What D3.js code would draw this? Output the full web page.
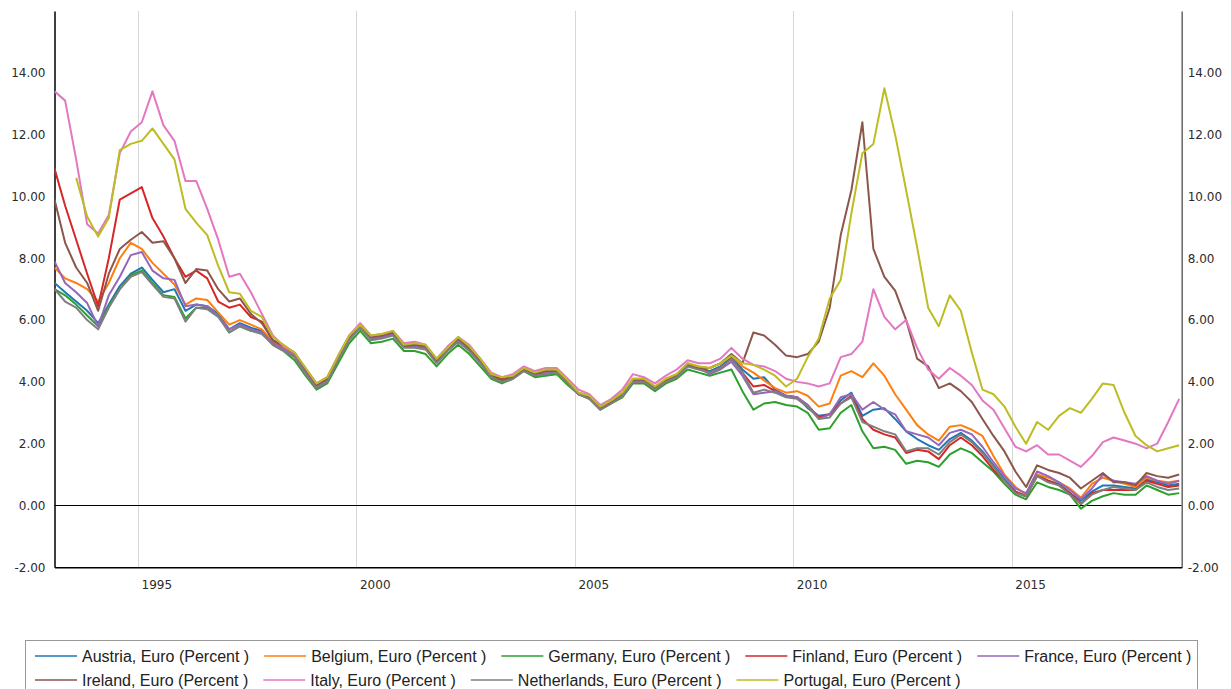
<!DOCTYPE html>
<html>
<head>
<meta charset="utf-8">
<script src="https://cdn.jsdelivr.net/npm/d3@7"></script>
<style>
body { margin: 0; background: #fff; }
</style>
</head>
<body>
<div class="chart"></div>
<script>
var WIDTH = 1231;
var HEIGHT = 689;
var LEFT = 54.5, RIGHT = 1181.7, TOP = 11, BOTTOM = 567.3;

// quarterly readings, Feb / May / Aug / Nov, starting Feb 1993
var startMonth = new Date(1993, 1, 1);
var endMonth = new Date(2018, 11, 1);
var axisEnd = new Date(2018, 10, 22);

var yTicks = [-2, 0, 2, 4, 6, 8, 10, 12, 14];
var yearTicks = [1995, 2000, 2005, 2010, 2015];

var countries = ["Austria", "Belgium", "Germany", "Finland", "France",
                 "Ireland", "Italy", "Netherlands", "Portugal"];
var colors = ["#1f77b4", "#ff7f0e", "#2ca02c", "#d62728", "#9467bd",
              "#8c564b", "#e377c2", "#7f7f7f", "#bcbd22"];

var austria = [
    7.2, 6.9, 6.6, 6.3,  5.9, 6.5, 7.1, 7.5,  7.7, 7.3, 6.9, 7.0,
    6.3, 6.5, 6.45, 6.2,  5.7, 5.9, 5.75, 5.65,  5.25, 5.05, 4.85, 4.35,
    3.85, 4.05, 4.75, 5.4,  5.8, 5.4, 5.45, 5.55,  5.15, 5.15, 5.1, 4.65,
    5.05, 5.35, 5.05, 4.65,  4.2, 4.05, 4.15, 4.4,  4.25, 4.3, 4.35, 4.0,
    3.65, 3.5, 3.15, 3.35,  3.6, 4.05, 4.05, 3.8,  4.05, 4.2, 4.55, 4.45,
    4.35, 4.5, 4.8, 4.4,  4.1, 4.15, 3.75, 3.55,  3.5, 3.15, 2.9, 2.95,
    3.4, 3.65, 2.9, 3.1,  3.15, 2.8, 2.4, 2.15,  1.95, 1.8, 2.15, 2.35,
    2.1, 1.75, 1.3, 0.85,  0.45, 0.3, 1.0, 0.8,  0.7, 0.4, 0.15, 0.45,
    0.65, 0.65, 0.6, 0.55,  0.85, 0.75, 0.65, 0.7
];
var belgium = [
    7.7, 7.35, 7.2, 7.0,  6.6, 7.2, 8.0, 8.5,  8.3, 7.85, 7.5, 7.15,
    6.5, 6.7, 6.65, 6.25,  5.85, 6.0, 5.85, 5.7,  5.3, 5.1, 4.9, 4.4,
    3.9, 4.1, 4.8, 5.45,  5.85, 5.45, 5.5, 5.6,  5.2, 5.2, 5.15, 4.7,
    5.1, 5.4, 5.1, 4.7,  4.2, 4.1, 4.2, 4.45,  4.3, 4.35, 4.35, 4.05,
    3.65, 3.55, 3.2, 3.4,  3.65, 4.1, 4.1, 3.85,  4.1, 4.25, 4.6, 4.5,
    4.45, 4.6, 4.85, 4.5,  4.3, 4.05, 3.8, 3.65,  3.7, 3.55, 3.2, 3.3,
    4.2, 4.35, 4.15, 4.6,  4.2, 3.6, 3.1, 2.6,  2.3, 2.1, 2.55, 2.6,
    2.45, 2.25, 1.6, 1.0,  0.6, 0.35, 1.0, 0.9,  0.75, 0.55, 0.25, 0.7,
    0.9, 0.8, 0.7, 0.6,  0.9, 0.8, 0.75, 0.8
];
var germany = [
    7.0, 6.8, 6.5, 6.15,  5.8, 6.45, 7.0, 7.45,  7.6, 7.2, 6.8, 6.75,
    6.05, 6.4, 6.4, 6.15,  5.6, 5.8, 5.65, 5.6,  5.2, 5.0, 4.7, 4.2,
    3.75, 3.95, 4.6, 5.25,  5.65, 5.25, 5.3, 5.4,  5.0, 5.0, 4.9, 4.5,
    4.9, 5.2, 4.9, 4.5,  4.1, 3.95, 4.1, 4.35,  4.15, 4.2, 4.25, 3.9,
    3.6, 3.45, 3.1, 3.3,  3.5, 3.95, 3.95, 3.7,  3.95, 4.1, 4.4, 4.3,
    4.2, 4.3, 4.4, 3.7,  3.1, 3.3, 3.35, 3.25,  3.2, 3.0, 2.45, 2.5,
    3.0, 3.25, 2.4, 1.85,  1.9, 1.8, 1.35, 1.45,  1.4, 1.25, 1.65, 1.85,
    1.7, 1.4, 1.1, 0.7,  0.35, 0.2, 0.75, 0.6,  0.5, 0.35, -0.1, 0.15,
    0.3, 0.4, 0.35, 0.35,  0.65, 0.5, 0.35, 0.4
];
var finland = [
    10.9, 9.7, 8.6, 7.5,  6.45, 8.0, 9.9, 10.1,  10.3, 9.3, 8.7, 8.0,
    7.4, 7.6, 7.35, 6.6,  6.4, 6.5, 6.1, 5.95,  5.35, 5.15, 4.95, 4.4,
    3.9, 4.1, 4.8, 5.45,  5.85, 5.45, 5.5, 5.6,  5.15, 5.2, 5.15, 4.7,
    5.1, 5.4, 5.1, 4.7,  4.2, 4.1, 4.15, 4.4,  4.25, 4.35, 4.35, 4.0,
    3.6, 3.5, 3.15, 3.35,  3.6, 4.05, 4.05, 3.8,  4.05, 4.2, 4.55, 4.45,
    4.3, 4.45, 4.75, 4.3,  3.85, 3.9, 3.7, 3.55,  3.5, 3.25, 2.85, 2.95,
    3.3, 3.55, 2.8, 2.45,  2.3, 2.2, 1.7, 1.8,  1.75, 1.5, 1.95, 2.2,
    1.95, 1.6, 1.15, 0.8,  0.45, 0.3, 0.95, 0.8,  0.65, 0.4, 0.05, 0.4,
    0.5, 0.5, 0.5, 0.5,  0.8, 0.7, 0.6, 0.65
];
var france = [
    7.9, 7.2, 6.9, 6.55,  5.8, 6.8, 7.4, 8.1,  8.2, 7.6, 7.35, 7.3,
    6.45, 6.5, 6.45, 6.15,  5.7, 5.85, 5.7, 5.6,  5.25, 5.05, 4.85, 4.35,
    3.85, 4.05, 4.75, 5.4,  5.8, 5.4, 5.45, 5.55,  5.15, 5.15, 5.1, 4.65,
    5.05, 5.35, 5.05, 4.65,  4.15, 4.05, 4.15, 4.4,  4.25, 4.3, 4.3, 4.0,
    3.6, 3.5, 3.15, 3.35,  3.55, 4.0, 4.0, 3.8,  4.05, 4.2, 4.55, 4.45,
    4.25, 4.4, 4.65, 4.2,  3.6, 3.65, 3.7, 3.55,  3.5, 3.25, 2.8, 2.95,
    3.5, 3.6, 3.1, 3.35,  3.1, 2.95, 2.4, 2.3,  2.2, 1.95, 2.35, 2.45,
    2.3, 1.9, 1.4, 0.95,  0.55, 0.4, 1.1, 0.95,  0.75, 0.5, 0.2, 0.55,
    1.0, 0.8, 0.75, 0.7,  0.95, 0.8, 0.7, 0.8
];
var ireland = [
    9.9, 8.5, 7.7, 7.2,  6.3, 7.5, 8.3, 8.6,  8.85, 8.5, 8.55, 8.0,
    7.2, 7.65, 7.6, 7.0,  6.6, 6.7, 6.2, 5.9,  5.35, 5.15, 4.95, 4.4,
    3.9, 4.1, 4.8, 5.45,  5.85, 5.45, 5.5, 5.6,  5.15, 5.2, 5.15, 4.7,
    5.1, 5.4, 5.1, 4.7,  4.2, 4.05, 4.15, 4.4,  4.25, 4.35, 4.35, 4.0,
    3.6, 3.5, 3.15, 3.35,  3.6, 4.05, 4.05, 3.8,  4.05, 4.2, 4.55, 4.45,
    4.45, 4.6, 4.9, 4.6,  5.6, 5.5, 5.2, 4.85,  4.8, 4.9, 5.3, 6.4,
    8.75, 10.2, 12.4, 8.3,  7.4, 6.95, 6.0, 4.75,  4.5, 3.8, 3.95, 3.7,
    3.35, 2.8, 2.25, 1.75,  1.1, 0.6, 1.3, 1.15,  1.05, 0.9, 0.55, 0.8,
    1.05, 0.75, 0.75, 0.65,  1.05, 0.95, 0.9, 1.0
];
var italy = [
    13.4, 13.1, 11.2, 9.1,  8.8, 9.4, 11.4, 12.1,  12.4, 13.4, 12.3, 11.8,
    10.5, 10.5, 9.6, 8.6,  7.4, 7.5, 6.9, 6.2,  5.5, 5.15, 4.95, 4.45,
    3.95, 4.15, 4.85, 5.5,  5.9, 5.5, 5.55, 5.65,  5.25, 5.3, 5.2, 4.75,
    5.15, 5.45, 5.2, 4.75,  4.3, 4.15, 4.25, 4.5,  4.35, 4.45, 4.45, 4.1,
    3.75, 3.6, 3.25, 3.45,  3.75, 4.25, 4.15, 3.95,  4.2, 4.4, 4.7, 4.6,
    4.6, 4.75, 5.1, 4.75,  4.55, 4.5, 4.35, 4.1,  4.0, 3.95, 3.85, 3.95,
    4.8, 4.9, 5.3, 7.0,  6.1, 5.7, 6.0, 5.1,  4.4, 4.1, 4.45, 4.2,
    3.9, 3.4, 3.1, 2.5,  1.9, 1.75, 1.95, 1.65,  1.65, 1.45, 1.25, 1.6,
    2.05, 2.2, 2.1, 2.0,  1.85, 2.0, 2.7, 3.45
];
var netherlands = [
    7.0, 6.6, 6.4, 6.0,  5.7, 6.4, 7.0, 7.4,  7.55, 7.15, 6.75, 6.7,
    5.95, 6.4, 6.35, 6.1,  5.6, 5.8, 5.65, 5.55,  5.2, 5.0, 4.8, 4.25,
    3.8, 4.0, 4.7, 5.35,  5.75, 5.35, 5.4, 5.5,  5.1, 5.1, 5.05, 4.6,
    5.0, 5.3, 5.0, 4.6,  4.15, 4.0, 4.1, 4.35,  4.2, 4.25, 4.3, 3.95,
    3.6, 3.45, 3.1, 3.3,  3.55, 4.0, 4.0, 3.75,  4.0, 4.15, 4.5, 4.4,
    4.3, 4.45, 4.75, 4.3,  3.65, 3.75, 3.65, 3.5,  3.45, 3.2, 2.8, 2.85,
    3.3, 3.5, 2.7, 2.55,  2.4, 2.3, 1.75, 1.85,  1.85, 1.65, 2.05, 2.3,
    2.05, 1.7, 1.25, 0.8,  0.4, 0.3, 0.95, 0.75,  0.65, 0.35, 0.05, 0.35,
    0.5, 0.6, 0.55, 0.5,  0.75, 0.6, 0.5, 0.55
];
var portugal = [
    null, null, 10.6, 9.35,  8.7, 9.3, 11.5, 11.7,  11.8, 12.2, 11.7, 11.2,
    9.6, 9.15, 8.75, 7.75,  6.9, 6.85, 6.3, 6.1,  5.45, 5.2, 4.95, 4.45,
    3.95, 4.15, 4.85, 5.5,  5.85, 5.5, 5.55, 5.65,  5.2, 5.25, 5.2, 4.75,
    5.1, 5.45, 5.15, 4.75,  4.25, 4.15, 4.2, 4.45,  4.3, 4.4, 4.4, 4.05,
    3.65, 3.55, 3.2, 3.4,  3.65, 4.1, 4.1, 3.85,  4.1, 4.25, 4.6, 4.5,
    4.45, 4.6, 4.85, 4.6,  4.55, 4.4, 4.2, 3.85,  4.1, 4.8, 5.4, 6.7,
    7.3, 9.45, 11.4, 11.7,  13.5, 12.0, 10.2, 8.35,  6.4, 5.8, 6.8, 6.3,
    4.95, 3.75, 3.6, 3.2,  2.55, 2.0, 2.7, 2.45,  2.9, 3.15, 3.0, 3.45,
    3.95, 3.9, 3.0, 2.25,  1.95, 1.75, 1.85, 1.95
];

var values = [austria, belgium, germany, finland, france,
              ireland, italy, netherlands, portugal];

var dates = d3.timeMonth.range(startMonth, endMonth, 3);

var svg = d3.select(".chart")
    .append("svg")
    .attr("width", WIDTH)
    .attr("height", HEIGHT)
    .style("font-family", "'DejaVu Sans', Verdana, sans-serif");

var x = d3.scaleTime()
    .domain([startMonth, axisEnd])
    .range([LEFT, RIGHT]);

var y = d3.scaleLinear()
    .domain([-2, 16])
    .range([BOTTOM, TOP]);

// plain hyphen for negatives, like the original
function fmt(d) { return d.toFixed(2); }

svg.append("clipPath")
    .attr("id", "plot")
    .append("rect")
    .attr("x", LEFT)
    .attr("y", TOP)
    .attr("width", RIGHT - LEFT)
    .attr("height", BOTTOM - TOP);

// vertical year gridlines
svg.selectAll(".grid")
    .data(yearTicks)
    .enter().append("line")
    .attr("class", "grid")
    .attr("x1", function(d) { return Math.round(x(new Date(d, 0, 1))) + 0.5; })
    .attr("x2", function(d) { return Math.round(x(new Date(d, 0, 1))) + 0.5; })
    .attr("y1", TOP)
    .attr("y2", BOTTOM)
    .attr("stroke", "#d6d6d6")
    .attr("stroke-width", 1);

// zero line
svg.append("line")
    .attr("x1", LEFT)
    .attr("x2", RIGHT)
    .attr("y1", Math.round(y(0)) + 0.5)
    .attr("y2", Math.round(y(0)) + 0.5)
    .attr("stroke", "#000")
    .attr("stroke-width", 1.2);

// axes
var leftAxis = svg.append("g")
    .attr("transform", "translate(" + LEFT + ",0)")
    .call(d3.axisLeft(y).tickValues(yTicks).tickFormat(fmt).tickSize(0).tickPadding(9));
leftAxis.select(".domain").attr("stroke", "#000").attr("stroke-width", 1.5);

var rightAxis = svg.append("g")
    .attr("transform", "translate(" + RIGHT + ",0)")
    .call(d3.axisRight(y).tickValues(yTicks).tickFormat(fmt).tickSize(0).tickPadding(6));
rightAxis.select(".domain").attr("stroke", "#666").attr("stroke-width", 1.5);

var bottomAxis = svg.append("g")
    .attr("transform", "translate(0," + BOTTOM + ")")
    .call(d3.axisBottom(x)
        .tickValues(yearTicks.map(function(d) { return new Date(d, 0, 1); }))
        .tickFormat(d3.timeFormat("%Y"))
        .tickSize(0));
bottomAxis.select(".domain").attr("stroke", "#000").attr("stroke-width", 1.5);
bottomAxis.selectAll("text")
    .attr("text-anchor", "start")
    .attr("x", 3)
    .attr("y", 13);

svg.selectAll(".tick text")
    .attr("font-size", 12)
    .attr("fill", "#2b2b2b")
    .attr("font-family", "'DejaVu Sans', Verdana, sans-serif");

var line = d3.line()
    .defined(function(d) { return d != null; })
    .x(function(d, i) { return x(dates[i]); })
    .y(function(d) { return y(d); });

svg.append("g")
    .attr("clip-path", "url(#plot)")
    .selectAll("path")
    .data(values)
    .enter().append("path")
    .attr("d", line)
    .attr("fill", "none")
    .attr("stroke", function(d, i) { return colors[i]; })
    .attr("stroke-width", 2)
    .attr("stroke-linejoin", "round");

// legend
svg.append("rect")
    .attr("x", 25.5)
    .attr("y", 640.5)
    .attr("width", 1172)
    .attr("height", 60)
    .attr("fill", "none")
    .attr("stroke", "#999");

var perRow = 5;
var lx = 35, ly = 656;
countries.forEach(function(name, i) {
    if (i == perRow) { lx = 35; ly = 680; }
    var item = svg.append("g").attr("transform", "translate(" + lx + "," + ly + ")");
    item.append("line")
        .attr("x1", 0).attr("x2", 42)
        .attr("y1", 0).attr("y2", 0)
        .attr("stroke", colors[i])
        .attr("stroke-width", 1.5);
    var t = item.append("text")
        .attr("x", 47)
        .attr("y", 5.5)
        .attr("font-family", "'Liberation Sans', Arial, sans-serif")
        .attr("font-size", 16)
        .attr("fill", "#222")
        .text(name + ", Euro (Percent )");
    lx += 47 + t.node().getComputedTextLength() + 15;
});
</script>
</body>
</html>
